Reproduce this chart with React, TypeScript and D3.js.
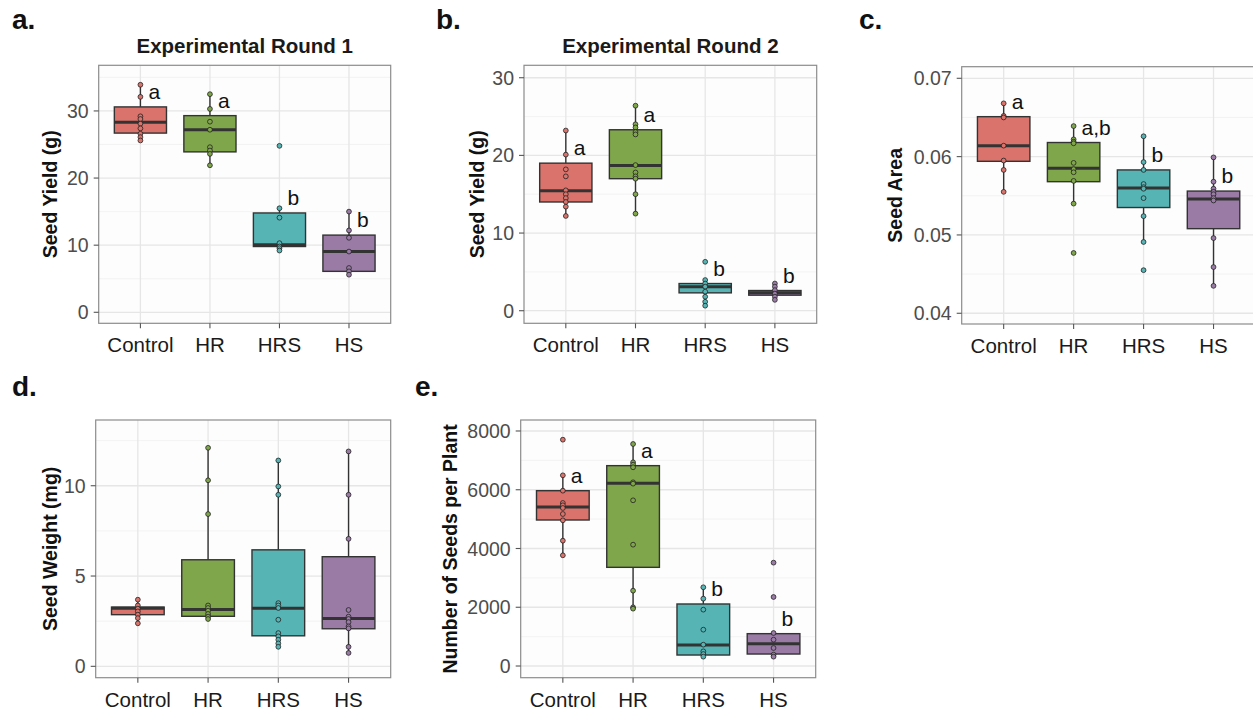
import React from "react";
import * as d3 from "d3";

const categories = ["Control", "HR", "HRS", "HS"];
const colors = ["#D9736B", "#80A64B", "#57B4B5", "#9A7BA6"];

// Panel a – Experimental Round 1, Seed Yield (g)
const yieldR1Points = [
  [33.9, 32.1, 29.2, 28.8, 28.1, 27.4, 26.6, 26.1, 25.6],
  [32.5, 30.3, 28.4, 27.2, 24.6, 24.1, 23.6, 21.9],
  [24.8, 15.5, 14.1, 10.3, 9.8, 9.55, 9.2],
  [15.0, 12.2, 11.1, 9.05, 6.6, 6.1, 5.6],
];
// [lowerWhisker, q1, median, q3, upperWhisker]
const yieldR1Boxes = [
  [25.6, 26.7, 28.3, 30.6, 33.9],
  [21.9, 23.9, 27.2, 29.3, 32.5],
  [9.2, 9.8, 10.05, 14.8, 15.5],
  [5.6, 6.1, 9.05, 11.5, 15.0],
];
const yieldR1Letters = ["a", "a", "b", "b"];
const yieldR1Ticks = [0, 10, 20, 30];

// Panel b – Experimental Round 2, Seed Yield (g)
const yieldR2Points = [
  [23.2, 20.1, 18.2, 17.3, 15.5, 15.0, 14.5, 14.0, 13.4, 12.2],
  [26.4, 24.0, 23.6, 23.0, 22.7, 18.75, 17.8, 17.3, 17.0, 15.0, 12.5],
  [6.3, 3.95, 3.5, 3.1, 2.45, 1.8, 1.15, 0.65],
  [3.5, 3.1, 2.65, 2.2, 1.8, 1.4],
];
const yieldR2Boxes = [
  [12.2, 14.0, 15.45, 19.0, 23.2],
  [12.5, 17.0, 18.7, 23.3, 26.4],
  [0.65, 2.3, 3.1, 3.5, 3.95],
  [1.4, 2.0, 2.3, 2.6, 3.5],
];
const yieldR2Letters = ["a", "a", "b", "b"];
const yieldR2Ticks = [0, 10, 20, 30];

// Panel c – Seed Area
const areaPoints = [
  [0.0668, 0.0652, 0.065, 0.0614, 0.0595, 0.0583, 0.0555],
  [0.0639, 0.0622, 0.0619, 0.0617, 0.0592, 0.0584, 0.058, 0.0569, 0.054, 0.0477],
  [0.0626, 0.0593, 0.0583, 0.0565, 0.0561, 0.0559, 0.0547, 0.0524, 0.0491, 0.0455],
  [0.0599, 0.0568, 0.0559, 0.0555, 0.0552, 0.0547, 0.0544, 0.0496, 0.0459, 0.0435],
];
const areaBoxes = [
  [0.0555, 0.0594, 0.0614, 0.0651, 0.0668],
  [0.054, 0.0568, 0.0585, 0.0618, 0.0639],
  [0.0491, 0.0535, 0.056, 0.0583, 0.0626],
  [0.0435, 0.0508, 0.0546, 0.0556, 0.0599],
];
const areaLetters = ["a", "a,b", "b", "b"];
const areaTicks = [0.04, 0.05, 0.06, 0.07];

// Panel d – Seed Weight (mg)
const weightPoints = [
  [3.69, 3.37, 3.19, 3.04, 2.86, 2.67, 2.38],
  [12.1, 10.3, 8.43, 3.37, 3.23, 3.08, 2.9, 2.75, 2.62],
  [11.4, 9.96, 9.5, 3.5, 3.37, 3.23, 2.58, 1.84, 1.66, 1.47, 1.27, 1.08],
  [11.9, 9.5, 7.06, 3.12, 2.75, 2.62, 2.45, 2.21, 2.1, 1.08, 0.74],
];
const weightBoxes = [
  [2.38, 2.86, 3.22, 3.28, 3.69],
  [2.62, 2.77, 3.15, 5.9, 12.1],
  [1.08, 1.69, 3.21, 6.45, 11.4],
  [0.74, 2.08, 2.65, 6.07, 11.9],
];
const weightLetters: string[] = [];
const weightTicks = [0, 5, 10];

// Panel e – Number of Seeds per Plant
const seedsPoints = [
  [7704, 6491, 5968, 5549, 5470, 5379, 5174, 4959, 4266, 3768],
  [7557, 6934, 6853, 6764, 6253, 6207, 5640, 4130, 2564, 1998, 1952],
  [2680, 2292, 1918, 1237, 726, 499, 408, 318],
  [3518, 2349, 1123, 896, 613, 386, 318],
];
const seedsBoxes = [
  [3768, 4970, 5413, 5968, 6491],
  [1952, 3359, 6219, 6820, 7557],
  [318, 374, 715, 2111, 2680],
  [318, 408, 760, 1101, 1123],
];
const seedsLetters = ["a", "a", "b", "b"];
const seedsTicks = [0, 2000, 4000, 6000, 8000];

const FONT = "'Liberation Sans', Arial, Helvetica, sans-serif";

type PanelProps = {
  tag: string;
  tagX: number;
  tagY: number;
  title?: string;
  yTitle: string;
  yTitleX: number;
  x0: number;
  x1: number;
  y0: number;
  y1: number;
  domain: [number, number];
  ticks: number[];
  fmt: (v: number) => string;
  points: number[][];
  boxes: number[][];
  letters: string[];
};

function Panel(p: PanelProps) {
  const x = d3.scalePoint<string>().domain(categories).range([p.x0, p.x1]).padding(0.6);
  const y = d3.scaleLinear().domain(p.domain).range([p.y1, p.y0]);
  const step = x.step();
  const bw = step * 0.75;
  const minor: number[] = [];
  const dt = p.ticks[1] - p.ticks[0];
  for (let v = p.ticks[0] - dt / 2; v <= p.domain[1]; v += dt) {
    if (v >= p.domain[0]) minor.push(v);
  }
  const clipId = "clip-" + p.tag.replace(".", "");
  return (
    <g>
      <defs>
        <clipPath id={clipId}>
          <rect x={p.x0} y={p.y0} width={p.x1 - p.x0} height={p.y1 - p.y0} />
        </clipPath>
      </defs>
      <text x={p.tagX} y={p.tagY} fontFamily={FONT} fontWeight="bold" fontSize={28} fill="#111">
        {p.tag}
      </text>
      {p.title && (
        <text
          x={(p.x0 + p.x1) / 2}
          y={p.y0 - 12}
          textAnchor="middle"
          fontFamily={FONT}
          fontWeight="bold"
          fontSize={20.5}
          fill="#1a1a1a"
        >
          {p.title}
        </text>
      )}
      <rect x={p.x0} y={p.y0} width={p.x1 - p.x0} height={p.y1 - p.y0} fill="#fdfdfd" />
      <g clipPath={`url(#${clipId})`}>
        {minor.map((v, i) => (
          <line key={"mn" + i} x1={p.x0} x2={p.x1} y1={y(v)} y2={y(v)} stroke="#f0f0f0" strokeWidth={0.8} />
        ))}
        {p.ticks.map((v, i) => (
          <line key={"mj" + i} x1={p.x0} x2={p.x1} y1={y(v)} y2={y(v)} stroke="#e6e6e6" strokeWidth={1.3} />
        ))}
        {categories.map((c) => (
          <line key={"vg" + c} x1={x(c)} x2={x(c)} y1={p.y0} y2={p.y1} stroke="#e6e6e6" strokeWidth={1.3} />
        ))}
        {categories.map((c, i) => {
          const cx = x(c) as number;
          const [lo, q1, med, q3, hi] = p.boxes[i];
          return (
            <g key={"bx" + c}>
              <line x1={cx} x2={cx} y1={y(hi)} y2={y(q3)} stroke="#333" strokeWidth={1.4} />
              <line x1={cx} x2={cx} y1={y(q1)} y2={y(lo)} stroke="#333" strokeWidth={1.4} />
              <rect
                x={cx - bw / 2}
                y={y(q3)}
                width={bw}
                height={y(q1) - y(q3)}
                fill={colors[i]}
                stroke="#333"
                strokeWidth={1.4}
              />
              <line x1={cx - bw / 2} x2={cx + bw / 2} y1={y(med)} y2={y(med)} stroke="#333" strokeWidth={3} />
              {p.points[i].map((v, j) => (
                <circle key={j} cx={cx} cy={y(v)} r={2.4} fill={colors[i]} stroke="#222" strokeWidth={0.8} />
              ))}
            </g>
          );
        })}
        {p.letters.map((l, i) => (
          <text
            key={"lt" + i}
            x={(x(categories[i]) as number) + 8}
            y={y(p.boxes[i][3]) - 8}
            fontFamily={FONT}
            fontSize={21}
            fill="#111"
          >
            {l}
          </text>
        ))}
      </g>
      <rect
        x={p.x0}
        y={p.y0}
        width={p.x1 - p.x0}
        height={p.y1 - p.y0}
        fill="none"
        stroke="#8c8c8c"
        strokeWidth={1.2}
      />
      {p.ticks.map((v, i) => (
        <g key={"yt" + i}>
          <line x1={p.x0 - 5} x2={p.x0} y1={y(v)} y2={y(v)} stroke="#555" strokeWidth={1.1} />
          <text
            x={p.x0 - 10}
            y={y(v)}
            dy="0.36em"
            textAnchor="end"
            fontFamily={FONT}
            fontSize={19.5}
            fill="#4d4d4d"
          >
            {p.fmt(v)}
          </text>
        </g>
      ))}
      {categories.map((c) => (
        <g key={"xt" + c}>
          <line x1={x(c)} x2={x(c)} y1={p.y1} y2={p.y1 + 5} stroke="#555" strokeWidth={1.1} />
          <text
            x={x(c)}
            y={p.y1 + 29}
            textAnchor="middle"
            fontFamily={FONT}
            fontSize={20.5}
            fill="#1a1a1a"
          >
            {c}
          </text>
        </g>
      ))}
      <text
        transform={`translate(${p.yTitleX},${(p.y0 + p.y1) / 2}) rotate(-90)`}
        textAnchor="middle"
        dy="0.36em"
        fontFamily={FONT}
        fontWeight="bold"
        fontSize={19.5}
        fill="#111"
      >
        {p.yTitle}
      </text>
    </g>
  );
}

const intFmt = (v: number) => d3.format("d")(v);
const dec2 = (v: number) => d3.format(".2f")(v);

export default function App() {
  return (
    <svg
      width={1253}
      height={713}
      style={{ position: "absolute", left: 0, top: 0, background: "#fff" }}
    >
      <Panel
        tag="a."
        tagX={12}
        tagY={29}
        title="Experimental Round 1"
        yTitle="Seed Yield (g)"
        yTitleX={50}
        x0={98.7}
        x1={390.7}
        y0={65.3}
        y1={323.3}
        domain={[-1.64, 36.8]}
        ticks={yieldR1Ticks}
        fmt={intFmt}
        points={yieldR1Points}
        boxes={yieldR1Boxes}
        letters={yieldR1Letters}
      />
      <Panel
        tag="b."
        tagX={436}
        tagY={29}
        title="Experimental Round 2"
        yTitle="Seed Yield (g)"
        yTitleX={477}
        x0={524}
        x1={816.7}
        y0={65.3}
        y1={323.3}
        domain={[-1.62, 31.6]}
        ticks={yieldR2Ticks}
        fmt={intFmt}
        points={yieldR2Points}
        boxes={yieldR2Boxes}
        letters={yieldR2Letters}
      />
      <Panel
        tag="c."
        tagX={859}
        tagY={29}
        yTitle="Seed Area"
        yTitleX={895}
        x0={961.7}
        x1={1255.5}
        y0={66.7}
        y1={324}
        domain={[0.03863, 0.07148]}
        ticks={areaTicks}
        fmt={dec2}
        points={areaPoints}
        boxes={areaBoxes}
        letters={areaLetters}
      />
      <Panel
        tag="d."
        tagX={12}
        tagY={396}
        yTitle="Seed Weight (mg)"
        yTitleX={50}
        x0={95.7}
        x1={390.7}
        y0={420}
        y1={677.7}
        domain={[-0.63, 13.64]}
        ticks={weightTicks}
        fmt={intFmt}
        points={weightPoints}
        boxes={weightBoxes}
        letters={weightLetters}
      />
      <Panel
        tag="e."
        tagX={415}
        tagY={396}
        yTitle="Number of Seeds per Plant"
        yTitleX={450}
        x0={520.7}
        x1={815.7}
        y0={420}
        y1={677.7}
        domain={[-398, 8374]}
        ticks={seedsTicks}
        fmt={intFmt}
        points={seedsPoints}
        boxes={seedsBoxes}
        letters={seedsLetters}
      />
    </svg>
  );
}
